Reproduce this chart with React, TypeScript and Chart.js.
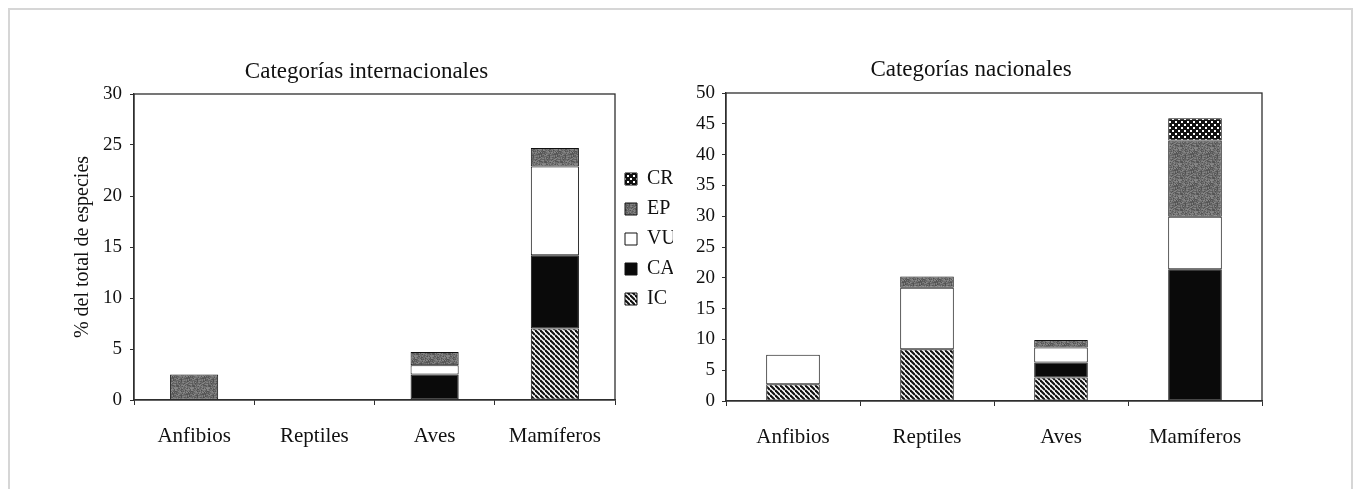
import React, { useEffect, useRef } from "react";
import { Chart, registerables } from "chart.js";

Chart.register(...registerables);

// ---------- data ----------
const categories = ["Anfibios", "Reptiles", "Aves", "Mamíferos"];
const seriesLabels = ["IC", "CA", "VU", "EP", "CR"];

// Categorías internacionales (% del total de especies), stacked bottom -> top
const intIC = [0, 0, 0, 7.0];
const intCA = [0, 0, 2.5, 7.2];
const intVU = [0, 0, 0.9, 8.7];
const intEP = [2.5, 0, 1.3, 1.8];
const intCR = [0, 0, 0, 0];

// Categorías nacionales
const natIC = [2.7, 8.4, 3.8, 0];
const natCA = [0, 0, 2.45, 21.4];
const natVU = [4.8, 10.0, 2.45, 8.5];
const natEP = [0, 1.8, 1.2, 12.4];
const natCR = [0, 0, 0, 3.6];

const intTitle = "Categorías internacionales";
const natTitle = "Categorías nacionales";
const yTitle = "% del total de especies";
const intMax = 30;
const natMax = 50;
const tickStep = 5;

const FONT = "'Liberation Serif', 'Times New Roman', serif";
const TEXT = "#111111";
const LINE = "#2e2e2e";

// ---------- fill patterns ----------
function tile(size: number, draw: (c: CanvasRenderingContext2D) => void) {
  const cv = document.createElement("canvas");
  cv.width = size;
  cv.height = size;
  const c = cv.getContext("2d")!;
  draw(c);
  return c.createPattern(cv, "repeat")!;
}

function hash(x: number, y: number) {
  let h = (x * 374761393 + y * 668265263) | 0;
  h = (h ^ (h >>> 13)) * 1274126177;
  h = h ^ (h >>> 16);
  return ((h >>> 0) % 1000) / 1000;
}

function makePatterns(): Record<string, CanvasPattern | string> {
  const IC = tile(5, (c) => {
    c.fillStyle = "#ffffff";
    c.fillRect(0, 0, 5, 5);
    c.strokeStyle = "#111";
    c.lineWidth = 2.1;
    for (let k = -1; k <= 1; k++) {
      c.beginPath();
      c.moveTo(0, k * 5);
      c.lineTo(5, 5 + k * 5);
      c.stroke();
    }
  });
  const EP = tile(16, (c) => {
    for (let x = 0; x < 16; x++) {
      for (let y = 0; y < 16; y++) {
        const v = Math.round(78 + hash(x, y) * 60);
        c.fillStyle = `rgb(${v},${v},${v})`;
        c.fillRect(x, y, 1, 1);
      }
    }
  });
  const CR = tile(6, (c) => {
    c.fillStyle = "#111";
    c.fillRect(0, 0, 6, 6);
    c.fillStyle = "#ffffff";
    c.fillRect(0, 0, 2, 2);
    c.fillRect(3, 3, 2, 2);
  });
  return { IC, CA: "#0a0a0a", VU: "#ffffff", EP, CR };
}

// ---------- plugins ----------
const plotFrame = {
  id: "plotFrame",
  afterDatasetsDraw(chart: any) {
    const { ctx, chartArea: a } = chart;
    ctx.save();
    ctx.strokeStyle = LINE;
    ctx.lineWidth = 1.3;
    ctx.strokeRect(a.left, a.top, a.right - a.left, a.bottom - a.top);
    ctx.restore();
  },
};

type Opts = {
  title: string;
  values: number[][];
  max: number;
  showLegend: boolean;
  showYTitle: boolean;
  yWidth: number;
  xHeight: number;
  padRight: number;
  titlePad: { top: number; bottom: number };
  yTickPad: number;
};

function buildConfig(o: Opts, patterns: Record<string, any>) {
  return {
    type: "bar" as const,
    data: {
      labels: categories,
      datasets: seriesLabels.map((lab, i) => ({
        label: lab,
        data: o.values[i],
        backgroundColor: patterns[lab],
        borderColor: "#111",
        borderWidth: 1,
        borderSkipped: false,
        barPercentage: 0.4,
        categoryPercentage: 1,
      })),
    },
    options: {
      responsive: false,
      maintainAspectRatio: false,
      animation: false,
      layout: { padding: { top: 0, right: o.padRight, bottom: 0, left: 0 } },
      plugins: {
        title: {
          display: true,
          text: o.title,
          color: TEXT,
          font: { family: FONT, size: 23, weight: "normal" },
          padding: o.titlePad,
        },
        legend: {
          display: o.showLegend,
          position: "right",
          align: "start",
          reverse: true,
          maxWidth: 58,
          title: {
            display: true,
            text: " ",
            font: { size: 10 },
            padding: { top: 0, bottom: 107 },
          },
          labels: {
            boxWidth: 12,
            boxHeight: 12,
            padding: 10,
            color: TEXT,
            font: { family: FONT, size: 20 },
          },
        },
        tooltip: { enabled: false },
      },
      scales: {
        x: {
          stacked: true,
          grid: {
            display: true,
            drawOnChartArea: false,
            drawTicks: true,
            tickLength: 5,
            color: LINE,
            offset: true,
          },
          border: { display: true, color: LINE, width: 1.3 },
          ticks: {
            color: TEXT,
            font: { family: FONT, size: 21 },
            padding: 18.4,
            maxRotation: 0,
          },
          afterFit(s: any) {
            s.height = o.xHeight;
          },
        },
        y: {
          stacked: true,
          min: 0,
          max: o.max,
          grid: {
            display: true,
            drawOnChartArea: false,
            drawTicks: true,
            tickLength: 4,
            color: LINE,
          },
          border: { display: true, color: LINE, width: 1.3 },
          ticks: {
            stepSize: tickStep,
            color: TEXT,
            font: { family: FONT, size: 19 },
            padding: o.yTickPad,
          },
          title: {
            display: o.showYTitle,
            text: yTitle,
            color: TEXT,
            font: { family: FONT, size: 20 },
            padding: { top: 11, bottom: 0 },
          },
          afterFit(s: any) {
            s.width = o.yWidth;
          },
        },
      },
    },
    plugins: [plotFrame],
  };
}

export default function App() {
  const leftRef = useRef<HTMLCanvasElement>(null);
  const rightRef = useRef<HTMLCanvasElement>(null);

  useEffect(() => {
    const patterns = makePatterns();
    const left = new Chart(
      leftRef.current!,
      buildConfig(
        {
          title: intTitle,
          values: [intIC, intCA, intVU, intEP, intCR],
          max: intMax,
          showLegend: true,
          showYTitle: true,
          yWidth: 74,
          xHeight: 60,
          padRight: 7,
          titlePad: { top: 18.2, bottom: 8.2 },
          yTickPad: 8,
        },
        patterns
      ) as any
    );
    const right = new Chart(
      rightRef.current!,
      buildConfig(
        {
          title: natTitle,
          values: [natIC, natCA, natVU, natEP, natCR],
          max: natMax,
          showLegend: false,
          showYTitle: false,
          yWidth: 46,
          xHeight: 59,
          padRight: 18,
          titlePad: { top: 16.2, bottom: 9.2 },
          yTickPad: 7,
        },
        patterns
      ) as any
    );
    return () => {
      left.destroy();
      right.destroy();
    };
  }, []);

  return (
    <div>
      <div
        style={{
          position: "fixed",
          left: 8,
          top: 8,
          width: 1345,
          height: 600,
          boxSizing: "border-box",
          border: "2px solid #d6d6d6",
          pointerEvents: "none",
        }}
      />
      <canvas
        ref={leftRef}
        width={620}
        height={420}
        style={{ position: "absolute", left: 60, top: 40, width: 620, height: 420 }}
      />
      <canvas
        ref={rightRef}
        width={600}
        height={420}
        style={{ position: "absolute", left: 680, top: 40, width: 600, height: 420 }}
      />
    </div>
  );
}
